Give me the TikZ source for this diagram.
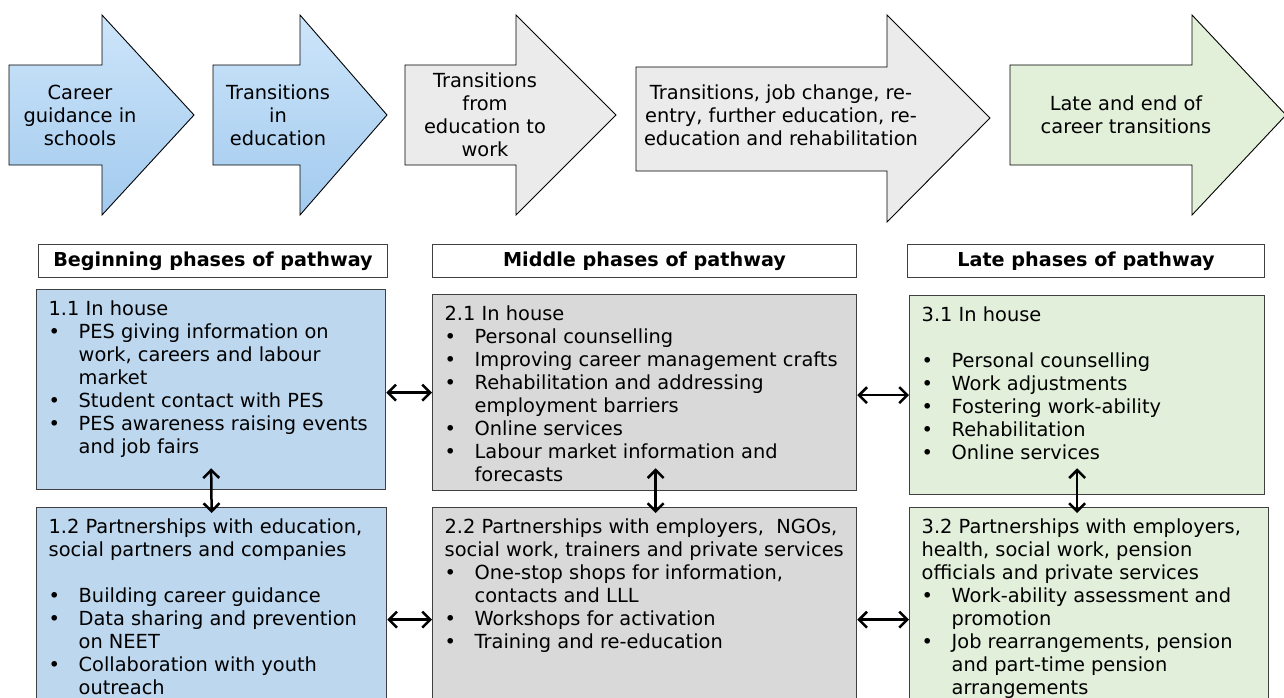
\documentclass[tikz,border=0pt]{standalone}
\usepackage{fontspec}
\setmainfont{DejaVu Sans}
\usetikzlibrary{arrows.meta,%
                positioning}

\definecolor{skyTop}{HTML}{CDE5FA}
\definecolor{skyBot}{HTML}{A2CAEE}
\definecolor{fogArrow}{HTML}{EBEBEB}
\definecolor{sageArrow}{HTML}{E2EFD9}
\definecolor{skyBox}{HTML}{BDD7EE}
\definecolor{fogBox}{HTML}{D9D9D9}
\definecolor{sageBox}{HTML}{E2EFDA}
\definecolor{edge}{HTML}{404040}

\newcommand{\bul}[1]{\par\hangindent=30pt\hangafter=1\noindent\hbox to 30pt{\textbullet\hfil}#1}
\newcommand{\gap}{\par\vspace{23pt}}
\newcommand{\cardtext}[3]{\parbox[t][#2][t]{#1}{\raggedright #3}}

\begin{document}
\begin{tikzpicture}[x=1pt, y=-1pt,
font=\fontsize{19.4}{23}\selectfont,
phase/.style={align=center, inner sep=0pt, anchor=base},
%
skyarrow/.style={draw=black, line width=0.9pt, top color=skyTop, bottom color=skyBot},
fogarrow/.style={draw=black, line width=0.9pt, fill=fogArrow},
sagearrow/.style={draw=black, line width=0.9pt, fill=sageArrow},
%
header/.style={draw=edge, line width=1pt, fill=white, anchor=north west,
inner sep=0pt, minimum height=33pt, font=\fontsize{19.2}{23}\selectfont\bfseries},
%
card/.style={draw=edge, line width=1.3pt, anchor=north west,
inner xsep=12pt, inner ysep=11pt},
%
link/.style={{Straight Barb[length=8pt,width=16pt]}-{Straight Barb[length=8pt,width=16pt]},
line width=2.5pt}]

\useasboundingbox (0,0) rectangle (1284,698);

% transition arrows
\draw[skyarrow] (9,65) -- (102,65) -- (102,15) -- (194,115) -- (102,215) -- (102,165) -- (9,165) -- cycle;
\draw[skyarrow] (213,65) -- (300,65) -- (300,15) -- (387,115) -- (300,215) -- (300,165) -- (213,165) -- cycle;
\draw[fogarrow] (405,65) -- (516,65) -- (516,15) -- (616,115) -- (516,215) -- (516,165) -- (405,165) -- cycle;
\draw[fogarrow] (636,67) -- (887,67) -- (887,15) -- (990,118) -- (887,222) -- (887,171) -- (636,171) -- cycle;
\draw[sagearrow] (1010,65) -- (1192,65) -- (1192,15) -- (1286,115) -- (1192,215) -- (1192,165) -- (1010,165) -- cycle;

% (base = last line)
\node[phase] (school) at (80,145) {Career\\guidance in\\schools};
\node[phase] (ineduc) at (278,145) {Transitions\\in\\education};
\node[phase] (towork) at (485,157) {Transitions\\from\\education to\\work};
\node[phase] (change) at (781,145) {Transitions, job change, re-\\entry, further education, re-\\education and rehabilitation};
\node[phase] (endcareer) at (1126,133) {Late and end of\\career transitions};

% phase headers
\node[header, minimum width=349pt] (begin) at (38,244) {Beginning phases of pathway};
\node[header, minimum width=424pt] (middle) at (432,244) {Middle phases of pathway};
\node[header, minimum width=357pt] (latephase) at (907,244) {Late phases of pathway};

% beginning
\node[card, fill=skyBox] (house1) at (36,289) {\cardtext{325pt}{178pt}{1.1 In house
\bul{PES giving information on\newline work, careers and labour\newline market}
\bul{Student contact with PES}
\bul{PES awareness raising events\newline and job fairs}}};

\node[card, fill=skyBox] (partner1) at (36,507) {\cardtext{326pt}{202pt}{1.2 Partnerships with education,\\social partners and companies
\gap
\bul{Building career guidance}
\bul{Data sharing and prevention\newline on NEET}
\bul{Collaboration with youth\newline outreach}}};

% middle
\node[card, fill=fogBox] (house2) at (432,294) {\cardtext{400pt}{174pt}{2.1 In house
\bul{Personal counselling}
\bul{Improving career management crafts}
\bul{Rehabilitation and addressing\newline employment barriers}
\bul{Online services}
\bul{Labour market information and\newline forecasts}}};

\node[card, fill=fogBox] (partner2) at (432,507) {\cardtext{400pt}{202pt}{2.2 Partnerships with employers,~ NGOs,\\social work, trainers and private services
\bul{One-stop shops for information,\newline contacts and LLL}
\bul{Workshops for activation}
\bul{Training and re-education}}};

% late
\node[card, fill=sageBox] (house3) at (909,295) {\cardtext{331pt}{177pt}{3.1 In house
\gap
\bul{Personal counselling}
\bul{Work adjustments}
\bul{Fostering work-ability}
\bul{Rehabilitation}
\bul{Online services}}};

\node[card, fill=sageBox] (partner3) at (909,507) {\cardtext{335pt}{202pt}{3.2 Partnerships with employers,\\health, social work, pension\\officials and private services
\bul{Work-ability assessment and\newline promotion}
\bul{Job rearrangements, pension\newline and part-time pension\newline arrangements}}};

% links
\draw[link] (house1.east |- house2.west) -- (house2.west);
\draw[link] (partner1.east |- partner2.west) -- (partner2.west);
\draw[link] (house2.east |- house3.west) -- (house3.west);
\draw[link] (partner2.east |- partner3.west) -- (partner3.west);
%%%%%%%%%%%%%%%%%%%%%%%%%%%%%%%%%%%%
\draw[link] ([yshift=22pt]house1.south) -- ([yshift=-6pt]partner1.north);
\draw[link] ([xshift=11pt,yshift=23pt]house2.south) -- ([xshift=11pt,yshift=-6pt]partner2.north);
\draw[link] ([xshift=-10pt,yshift=27pt]house3.south) -- ([xshift=-12pt,yshift=-6pt]partner3.north);

\end{tikzpicture}
\end{document}
